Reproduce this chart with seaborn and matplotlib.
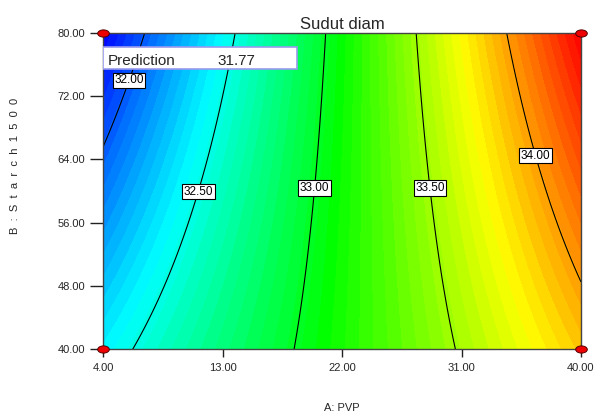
import numpy as np
import pandas as pd
import matplotlib
matplotlib.use("Agg")
import matplotlib.pyplot as plt
import seaborn as sns
from matplotlib.colors import LinearSegmentedColormap
from matplotlib.path import Path
from matplotlib.transforms import Affine2D

# ---- data ----
title = "Sudut diam"
x_label = "A: PVP"
y_label = "B  :  S  t  a  r  c  h  1  5  0  0"
a_range = [4.0, 40.0]          # PVP
b_range = [40.0, 80.0]         # Starch 1500
# coded-model coefficients: intercept, A, B, AB
coef_intercept = 33.12
coef_a = 1.03
coef_b = -0.029
coef_ab = 0.29
contour_levels = [32.0, 32.5, 33.0, 33.5, 34.0]
label_pos = [(5.9, 74.0), (10.95, 60.0), (19.9, 60.4), (28.66, 60.4), (36.68, 64.5)]
x_ticks = [4.0, 13.0, 22.0, 31.0, 40.0]
y_ticks = [40.0, 48.0, 56.0, 64.0, 72.0, 80.0]
design_a = [4.0, 40.0, 4.0, 40.0]
design_b = [40.0, 40.0, 80.0, 80.0]
prediction_value = 31.77

sns.set_theme(style="white")
plt.rcParams["font.family"] = ["Liberation Sans", "DejaVu Sans"]

fig = plt.figure(figsize=(5.95, 4.17), dpi=100)
ax = fig.add_axes([103.3 / 595, 1 - 349.3 / 417, (581 - 103.3) / 595, (349.3 - 32.7) / 417])

A = np.linspace(a_range[0], a_range[1], 241)
B = np.linspace(b_range[0], b_range[1], 241)
AA, BB = np.meshgrid(A, B)
x1 = (AA - 22.0) / 18.0
x2 = (BB - 60.0) / 20.0
Z = coef_intercept + coef_a * x1 + coef_b * x2 + coef_ab * x1 * x2

cmap = LinearSegmentedColormap.from_list(
    "de", ["#0000ff", "#00ffff", "#00ff00", "#ffff00", "#ff0000"])
fill_levels = np.linspace(Z.min(), Z.max(), 60)
ax.contourf(AA, BB, Z, levels=fill_levels, cmap=cmap)
cs = ax.contour(AA, BB, Z, levels=contour_levels, colors="black", linewidths=0.8)
labels = ax.clabel(cs, fmt="%.2f", fontsize=8.5, inline=False, manual=label_pos)
for t in labels:
    t.set_rotation(0)
    t.set_bbox(dict(facecolor="white", edgecolor="black", boxstyle="square,pad=0.14", linewidth=0.8))

# design points
pts = pd.DataFrame({"A": design_a, "B": design_b})
ell = Path.unit_circle().transformed(Affine2D().scale(1.0, 0.62))
sns.scatterplot(data=pts, x="A", y="B", ax=ax, marker=ell, s=70, color="#ee0000",
                edgecolor="#550000", linewidth=0.7, clip_on=False, zorder=10, legend=False)

ax.set_xlim(a_range)
ax.set_ylim(b_range)
ax.set_xticks(x_ticks)
ax.set_yticks(y_ticks)
ax.set_xticklabels([f"{v:.2f}" for v in x_ticks], fontsize=8)
ax.set_yticklabels([f"{v:.2f}" for v in y_ticks], fontsize=8)
ax.tick_params(axis="x", direction="out", length=6, width=1, color="#222222", pad=4, bottom=True)
ax.tick_params(axis="y", direction="out", length=9.5, width=1, color="#222222", pad=3.5, left=True)
ax.set_xlabel("")
ax.set_ylabel("")
for s in ax.spines.values():
    s.set_color("#444444")
    s.set_linewidth(1.0)
    s.set_visible(True)

ax.set_title(title, fontsize=12, pad=3)
fig.text(342 / 595, 1 - 408 / 417, x_label, ha="center", va="center", fontsize=8)
fig.text(15 / 595, 1 - 166 / 417, y_label, ha="center", va="center", fontsize=8, rotation=90)

# prediction box
ax.text(0.0085, 0.912, "Prediction", transform=ax.transAxes, fontsize=11, va="center", ha="left",
        zorder=12)
ax.text(0.238, 0.912, f"{prediction_value:.2f}", transform=ax.transAxes, fontsize=11,
        va="center", ha="left", zorder=12)
ax.add_patch(plt.Rectangle((0.0, 1 - (68.5 - 32.7) / 316.6), (297 - 103.3) / 477.7, 21.5 / 316.6,
                           transform=ax.transAxes, facecolor="white", edgecolor="#9999ee",
                           linewidth=1.2, zorder=11))

fig.savefig("out.png", dpi=100)
